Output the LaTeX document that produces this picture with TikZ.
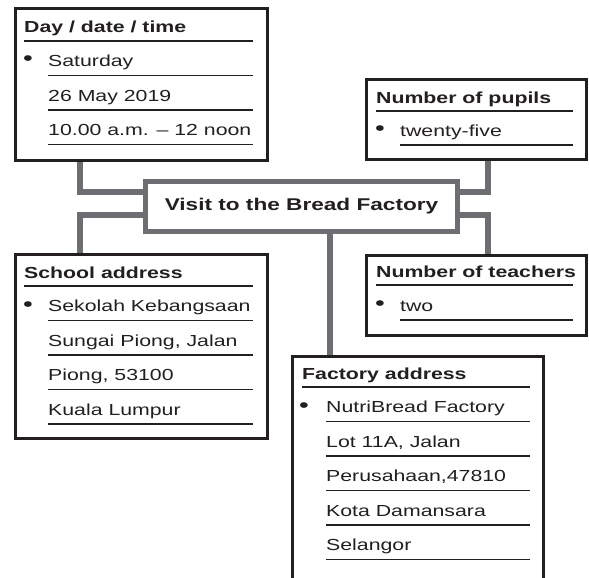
\documentclass[tikz,border=0pt]{standalone}
\usepackage{fontspec}
\setmainfont{Liberation Sans}[FakeStretch=1.33]
\usetikzlibrary{positioning, calc, backgrounds}
\definecolor{ink}{HTML}{231F20}
\definecolor{linkgray}{HTML}{6D6E71}

\begin{document}
\begin{tikzpicture}[x=1pt, y=-1pt, font=\fontsize{16}{19}\selectfont, text=ink]
  \tikzstyle{infobox}=[draw=ink, line width=3pt, fill=white, anchor=north west, inner sep=0pt]
  \tikzstyle{head}=[anchor=base west, inner sep=0pt, font=\fontsize{16}{19}\selectfont\bfseries]
  \tikzstyle{item}=[anchor=base west, inner sep=0pt]
  \tikzstyle{dot}=[anchor=base west, inner sep=0pt, font=\fontsize{21}{21}\selectfont]
  \tikzstyle{rule}=[draw=ink, line width=1.2pt]
  \tikzstyle{link}=[draw=linkgray, line width=6pt]

  \useasboundingbox (0,0) rectangle (589,578);
  \clip (0,0) rectangle (589,578);

  % Centre box
  \node[draw=linkgray, line width=5pt, fill=white, minimum width=312pt, minimum height=50pt,
        font=\fontsize{17}{20}\selectfont\bfseries] (visit) at (301.5,206) {Visit to the Bread Factory};

  % Day / date / time
  \node[infobox, minimum width=252pt, minimum height=151pt] (day) at (13.5,7.5) {};
  \node[head] (day-head) at (24,33) {Day / date / time};
  \draw[rule] (24,41) -- (253,41);
  \node[dot] at (23,66) {\textbullet};
  \foreach \txt [count=\i] in {Saturday, 26 May 2019, 10.00 a.m. -- 12 noon} {
    \node[item] (day-\i) at (48,{41+34.5*\i-9}) {\txt};
    \draw[rule] (48,{41+34.5*\i}) -- (253,{41+34.5*\i});
  }

  % Number of pupils
  \node[infobox, minimum width=220pt, minimum height=79pt] (pupils) at (364.5,78.5) {};
  \node[head] (pupils-head) at (376,103) {Number of pupils};
  \draw[rule] (376,111) -- (573,111);
  \node[dot] at (375,135) {\textbullet};
  \node[item] (pupils-1) at (400,136) {twenty-five};
  \draw[rule] (400,145) -- (573,145);

  % School address
  \node[infobox, minimum width=252pt, minimum height=184pt] (school) at (13.5,252.5) {};
  \node[head] (school-head) at (24,278) {School address};
  \draw[rule] (24,286) -- (253,286);
  \node[dot] at (23,311) {\textbullet};
  \foreach \txt [count=\i] in {Sekolah Kebangsaan, {Sungai Piong, Jalan}, {Piong, 53100}, Kuala Lumpur} {
    \node[item] (school-\i) at (48,{286+34.5*\i-9}) {\txt};
    \draw[rule] (48,{286+34.5*\i}) -- (253,{286+34.5*\i});
  }

  % Number of teachers
  \node[infobox, minimum width=220pt, minimum height=80pt] (teachers) at (364.5,253.5) {};
  \node[head] (teachers-head) at (376,277) {Number of teachers};
  \draw[rule] (376,285) -- (573,285);
  \node[dot] at (375,310) {\textbullet};
  \node[item] (teachers-1) at (400,311) {two};
  \draw[rule] (400,320) -- (573,320);

  % Factory address (runs off the page)
  \node[infobox, minimum width=251pt, minimum height=250pt] (factory) at (290.5,354.5) {};
  \node[head] (factory-head) at (302,379) {Factory address};
  \draw[rule] (302,387) -- (530,387);
  \node[dot] at (299,412) {\textbullet};
  \foreach \txt [count=\i] in {NutriBread Factory, {Lot 11A, Jalan}, {Perusahaan,47810}, Kota Damansara, Selangor} {
    \node[item] (factory-\i) at (326,{387+34.5*\i-9}) {\txt};
    \draw[rule] (326,{387+34.5*\i}) -- (530,{387+34.5*\i});
  }

  % Connectors
  \coordinate (lx) at (80,0);
  \coordinate (rx) at (488,0);
  \coordinate (mx) at (330,0);
  \begin{pgfonlayer}{background}
    \draw[link] (day.south -| lx) |- ([yshift=14pt]visit.west);
    \draw[link] ([yshift=-9pt]visit.west) -| (school.north -| lx);
    \draw[link] (pupils.south -| rx) |- ([yshift=14pt]visit.east);
    \draw[link] ([yshift=-9pt]visit.east) -| (teachers.north -| rx);
    \draw[link] (visit.south -| mx) -- (factory.north -| mx);
  \end{pgfonlayer}
\end{tikzpicture}
\end{document}
